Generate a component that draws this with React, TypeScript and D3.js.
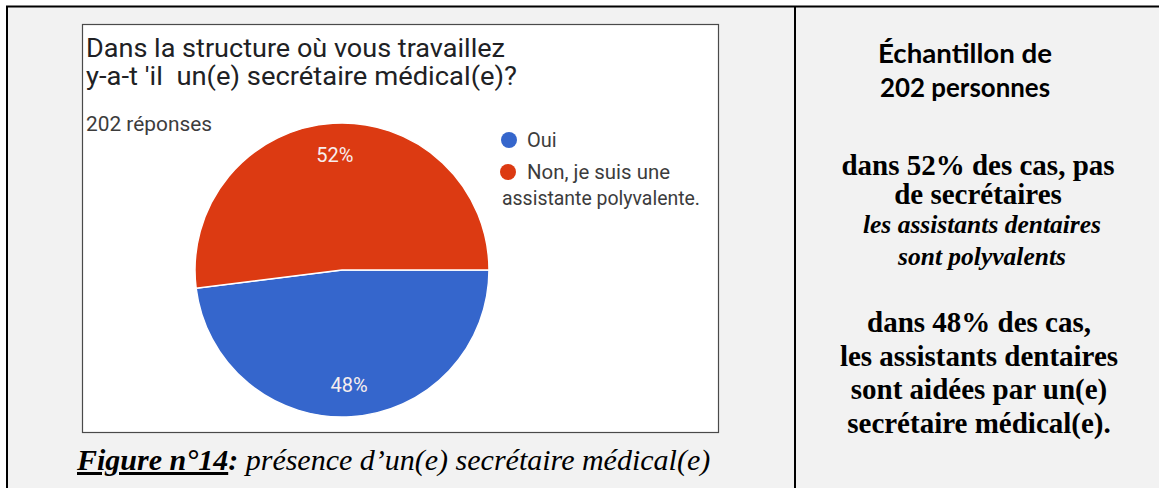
import React from "react"
import * as d3 from "d3"

// survey answers (202 réponses)
const categories = ["Oui", "Non, je suis une assistante polyvalente."]
const counts = [97, 105]
const percentLabels = ["48%", "52%"]
const legendLines = [["Oui"], ["Non, je suis une", "assistante polyvalente."]]
const colors = ["#3566cc", "#dc3a12"]

const titleLines = ["Dans la structure où vous travaillez", "y-a-t 'il  un(e) secrétaire médical(e)?"]
const responsesText = "202 réponses"

const sampleLines = ["Échantillon de", "202 personnes"]
const noSecretaryLines = ["dans 52% des cas, pas", "de secrétaires"]
const noSecretaryItalic = ["les assistants dentaires", "sont polyvalents"]
const secretaryLines = ["dans 48% des cas,", "les assistants dentaires", "sont aidées par un(e)", "secrétaire médical(e)."]

const W = 1159
const H = 488

export default function App() {
  const cx = 342
  const cy = 270
  const radius = 147

  const pie = d3
    .pie<number>()
    .sort(null)
    .value(d => d)
    .startAngle(Math.PI / 2)
    .endAngle(Math.PI / 2 + 2 * Math.PI)
  const arcs = pie(counts)
  const arc = d3.arc<d3.PieArcDatum<number>>().innerRadius(0).outerRadius(radius)
  const labelArc = d3.arc<d3.PieArcDatum<number>>().innerRadius(115).outerRadius(115)

  const roboto = "Roboto, 'Noto Sans', sans-serif"
  const serif = "'Liberation Serif', 'Times New Roman', serif"

  return (
    <svg width={W} height={H} style={{ position: "absolute", left: 0, top: 0, display: "block" }}>
      <rect x={0} y={0} width={W} height={H} fill="#fff" />
      {/* table cells */}
      <rect x={7} y={6} width={W} height={H} fill="#f2f2f2" />
      <line x1={6} x2={W} y1={6.5} y2={6.5} stroke="#000" strokeWidth={2} />
      <line x1={7} x2={7} y1={6} y2={H} stroke="#000" strokeWidth={2} />
      <line x1={795} x2={795} y1={6} y2={H} stroke="#000" strokeWidth={2} />

      {/* chart screenshot */}
      <rect x={82.5} y={24.5} width={636} height={408} fill="#fff" stroke="#4a4a4a" strokeWidth={1.2} />
      {titleLines.map((t, i) => (
        <text
          key={t}
          x={86}
          y={57 + i * 28}
          fontFamily={roboto}
          fontSize={25}
          fill="#202124"
          textLength={i === 0 ? 419 : 431}
          lengthAdjust="spacingAndGlyphs"
          style={{ whiteSpace: "pre" }}
        >
          {t}
        </text>
      ))}
      <text x={86} y={131} fontFamily={roboto} fontSize={20} fill="#3c3c3c" textLength={126} lengthAdjust="spacingAndGlyphs">
        {responsesText}
      </text>

      <g transform={`translate(${cx},${cy})`}>
        {arcs.map((a, i) => (
          <path key={categories[i]} d={arc(a) || ""} fill={colors[i]} stroke="#fff" strokeWidth={1.5} />
        ))}
        {arcs.map((a, i) => {
          const [lx, ly] = labelArc.centroid(a)
          return (
            <text
              key={percentLabels[i]}
              x={lx}
              y={ly + 7}
              textAnchor="middle"
              fontFamily={roboto}
              fontSize={20}
              fill="#f7eeee"
            >
              {percentLabels[i]}
            </text>
          )
        })}
      </g>

      {/* legend */}
      <circle cx={509} cy={140} r={8} fill={colors[0]} />
      <text x={527} y={147} fontFamily={roboto} fontSize={20} fill="#3c3c3c">
        {legendLines[0][0]}
      </text>
      <circle cx={508} cy={172} r={8} fill={colors[1]} />
      <text x={527} y={179} fontFamily={roboto} fontSize={20} fill="#3c3c3c" textLength={143} lengthAdjust="spacingAndGlyphs">
        {legendLines[1][0]}
      </text>
      <text x={502} y={205} fontFamily={roboto} fontSize={20} fill="#3c3c3c" textLength={198} lengthAdjust="spacingAndGlyphs">
        {legendLines[1][1]}
      </text>

      {/* caption */}
      <text x={77} y={470} fontFamily={serif} fontSize={30} fontStyle="italic" fill="#000">
        <tspan fontWeight="bold" textDecoration="underline">Figure n°14</tspan>
        <tspan fontWeight="bold">:</tspan>
        <tspan> présence d’un(e) secrétaire médical(e)</tspan>
      </text>

      {/* commentary cell */}
      {sampleLines.map((t, i) => (
        <text
          key={t}
          x={965}
          y={63 + i * 34}
          textAnchor="middle"
          fontFamily="Lato, 'Open Sans', sans-serif"
          fontWeight="bold"
          fontSize={26}
          fill="#000"
          textLength={i === 0 ? 174 : 170}
          lengthAdjust="spacingAndGlyphs"
        >
          {t}
        </text>
      ))}
      {noSecretaryLines.map((t, i) => (
        <text key={t} x={978} y={175 + i * 29} textAnchor="middle" fontFamily={serif} fontWeight="bold" fontSize={29} fill="#000">
          {t}
        </text>
      ))}
      {noSecretaryItalic.map((t, i) => (
        <text
          key={t}
          x={982}
          y={233 + i * 32}
          textAnchor="middle"
          fontFamily={serif}
          fontWeight="bold"
          fontStyle="italic"
          fontSize={25.5}
          fill="#000"
        >
          {t}
        </text>
      ))}
      {secretaryLines.map((t, i) => (
        <text key={t} x={979} y={332 + i * 33.7} textAnchor="middle" fontFamily={serif} fontWeight="bold" fontSize={29} fill="#000">
          {t}
        </text>
      ))}
    </svg>
  )
}
